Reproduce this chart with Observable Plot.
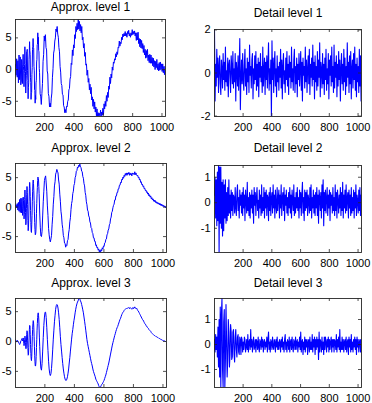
<!DOCTYPE html>
<html><head><meta charset="utf-8">
<script src="https://cdn.jsdelivr.net/npm/d3@7"></script>
<script src="https://cdn.jsdelivr.net/npm/@observablehq/plot@0.6"></script>
<style>
body{margin:0;background:#fff;}
#fig{position:relative;width:372px;height:403px;background:#fff;overflow:hidden;}
#fig svg{position:absolute;}
</style></head><body><div id="fig"></div>
<script>
// ---- data ----
const xTicks = [200, 400, 600, 800, 1000];
const xDomain = [1, 1024];
// sample positions (signal index) of the typed values
const approxGrid = [...d3.range(1, 41, 4), ...d3.range(41, 165, 2), ...d3.range(165, 1024, 4)];
const detailGrid = d3.range(1, 1024, 4);

const approx1 = [0.8,-0.9,1.7,-1.2,1.4,-2.1,2.3,-1.6,2.0,-2.4,
-1.8,1.6,1.0,0.4,-2.2,0.8,2.4,0.5,-0.1,-2.7,
-0.6,0.8,3.6,1.0,-0.3,-3.7,-1.9,-0.9,2.8,2.9,
3.2,-0.2,-1.7,-4.6,-2.8,-2.1,1.6,2.6,4.4,3.0,
2.4,-1.2,-2.0,-4.7,-3.7,-3.6,-0.8,0.3,3.2,3.6,
4.9,3.5,3.4,0.5,-0.2,-3.2,-3.3,-5.3,-4.1,-4.7,
-2.1,-1.7,1.2,1.6,3.9,4.0,5.8,4.4,5.1,3.0,
2.8,0.2,
-0.5,-3.8,-4.3,-5.5,-3.8,-2.2,1.3,2.4,5.3,4.5,
5.5,3.5,3.1,-0.2,-0.7,-3.8,-4.2,-5.9,-5.3,-5.9,
-4.5,-3.7,-1.2,0.2,2.6,3.1,4.5,5.0,6.4,6.0,
6.8,5.6,5.1,3.5,2.8,0.5,-0.4,-2.2,-2.5,-3.9,
-4.0,-5.7,-5.9,-6.8,-6.3,-6.8,-5.8,-5.9,-5.0,-4.8,
-3.2,-3.0,-1.5,-1.1,1.0,0.8,3.1,2.2,3.9,3.4,
5.5,4.9,6.8,6.0,7.3,6.3,7.9,6.4,7.6,6.1,
7.1,5.8,6.8,4.7,5.1,3.4,4.1,2.1,2.7,0.7,
0.9,-0.9,-0.1,-2.0,-1.4,-3.2,-2.3,-3.8,-2.8,-4.8,
-4.3,-5.8,-4.7,-6.2,-5.1,-6.7,-5.9,-7.3,-6.2,-7.4,
-6.8,-7.4,-6.9,-7.3,-6.4,-7.4,-6.7,-7.2,-6.1,-7.1,
-5.4,-6.2,-5.0,-5.8,-4.1,-5.0,-3.6,-4.4,-2.6,-3.1,
-1.2,-2.2,-0.7,-1.3,0.4,-0.1,1.2,1.0,1.7,1.5,
2.5,2.0,2.8,2.4,3.5,3.4,4.5,3.7,4.3,4.1,
5.1,4.7,5.6,5.2,5.7,5.3,6.0,5.3,5.7,5.1,
6.0,5.6,6.2,5.3,5.7,5.1,5.8,5.4,6.3,5.5,
6.0,5.6,6.1,5.3,5.8,4.6,5.8,4.7,5.9,4.1,
4.9,3.6,4.8,3.4,4.6,3.3,4.1,2.7,3.8,2.3,
3.2,1.8,3.0,1.9,3.2,1.4,2.3,1.1,2.4,1.0,
2.3,1.0,1.9,0.6,1.8,0.4,1.4,0.0,1.3,0.3,
1.6,0.0,0.9,-0.2,1.1,-0.1,1.2,0.0,0.9,-0.3,
0.9,-0.5,0.5,-0.8,0.5];

const approx2 = [0.2,0.4,-0.1,0.6,-0.5,0.8,-0.7,1.3,-0.9,1.5,
-1.0,0.9,1.5,-0.3,-1.4,0.1,1.7,1.1,-0.8,-2.0,
-1.3,1.3,2.9,1.6,-0.9,-3.0,-2.5,-0.2,2.1,3.5,
2.5,0.4,-2.3,-4.0,-3.4,-1.5,1.0,3.2,4.2,3.5,
1.8,-0.6,-2.6,-4.1,-4.3,-3.0,-1.4,0.9,2.6,4.1,
4.6,4.0,2.8,1.1,-0.8,-2.6,-3.8,-4.7,-4.6,-4.2,
-2.7,-1.1,0.6,2.2,3.3,4.5,5.1,4.9,4.6,3.5,
2.3,0.7,
-1.0,-3.4,-4.9,-5.0,-4.1,-1.5,0.9,2.7,4.5,5.0,
5.3,4.1,2.6,0.2,-1.4,-3.6,-4.7,-5.5,-5.9,-5.4,
-4.8,-3.0,-1.6,0.5,1.8,3.6,4.3,5.6,5.9,6.4,
6.1,5.8,4.6,3.9,2.2,1.0,-0.7,-1.5,-2.9,-3.6,
-4.8,-5.2,-6.1,-6.2,-6.8,-6.4,-6.5,-5.7,-5.5,-4.4,
-3.8,-2.5,-1.8,-0.4,0.6,1.1,2.3,2.7,3.7,4.0,
5.0,5.3,6.1,6.2,6.8,6.7,7.1,6.9,7.3,6.8,
6.7,6.1,6.0,5.2,4.9,4.0,3.6,2.5,2.0,0.9,
0.4,-0.5,-0.7,-1.5,-1.7,-2.5,-2.7,-3.5,-3.6,-4.3,
-4.5,-5.2,-5.2,-5.8,-5.8,-6.5,-6.4,-6.9,-6.8,-7.3,
-7.1,-7.6,-7.3,-7.7,-7.2,-7.4,-6.9,-7.1,-6.6,-6.7,
-6.1,-6.0,-5.5,-5.4,-4.7,-4.5,-3.9,-3.7,-3.0,-2.8,
-2.0,-1.7,-0.9,-0.7,-0.1,0.3,0.5,1.2,1.2,1.9,
1.9,2.5,2.5,3.1,3.1,3.7,3.7,4.2,4.1,4.7,
4.6,5.1,4.9,5.4,5.2,5.7,5.4,5.8,5.4,5.8,
5.6,5.9,5.4,5.8,5.5,5.7,5.3,5.8,5.6,5.7,
5.5,6.0,5.5,5.8,5.5,5.3,5.4,5.0,5.1,4.6,
4.7,4.2,4.3,3.8,3.9,3.5,3.6,3.1,3.2,2.8,
2.9,2.5,2.6,2.2,2.4,1.9,2.1,1.7,1.9,1.4,
1.6,1.2,1.4,1.0,1.2,0.9,1.1,0.7,0.9,0.6,
0.8,0.5,0.7,0.4,0.6,0.3,0.5,0.2,0.4,0.1,
0.3,0.0,0.2,-0.1,0.1];

const approx3 = [0.3,0.1,-0.1,0.2,0.1,-0.1,-0.3,-0.5,-0.3,0.1,
0.2,0.4,0.5,0.3,0.1,0.3,0.6,0.4,-0.3,-0.7,
-0.4,0.3,0.9,0.7,-0.2,-1.2,-1.2,-0.1,1.2,1.8,
1.6,0.1,-1.2,-2.3,-2.2,-1.0,0.6,2.0,2.7,2.6,
1.2,-0.5,-2.0,-2.9,-3.2,-2.5,-1.0,0.8,2.0,3.0,
3.5,3.3,2.4,0.8,-0.8,-2.3,-3.4,-4.1,-4.1,-3.6,
-2.5,-1.0,0.3,1.9,3.0,4.0,4.6,4.8,4.4,3.6,
2.1,0.6,
-0.8,-3.1,-4.5,-4.8,-3.7,-1.6,0.7,2.7,4.1,4.9,
4.9,4.0,2.3,0.3,-1.5,-3.3,-4.6,-5.4,-5.7,-5.4,
-4.5,-3.1,-1.4,0.4,1.9,3.3,4.4,5.4,6.0,6.2,
6.1,5.6,4.8,3.7,2.3,0.8,-0.5,-1.6,-2.7,-3.7,
-4.6,-5.3,-5.9,-6.3,-6.5,-6.5,-6.3,-5.9,-5.3,-4.6,
-3.6,-2.7,-1.6,-0.6,0.4,1.3,2.0,2.8,3.5,4.1,
4.8,5.4,5.9,6.3,6.6,6.8,7.1,7.2,7.1,6.8,
6.6,6.2,5.8,5.3,4.8,4.1,3.4,2.7,1.9,1.1,
0.3,-0.3,-0.8,-1.3,-1.8,-2.3,-2.8,-3.3,-3.7,-4.1,
-4.6,-5.0,-5.3,-5.6,-5.9,-6.3,-6.5,-6.7,-6.9,-7.1,
-7.4,-7.6,-7.7,-7.6,-7.4,-7.2,-7.1,-6.9,-6.7,-6.5,
-6.2,-5.9,-5.6,-5.2,-4.8,-4.4,-4.0,-3.6,-3.1,-2.6,
-2.1,-1.6,-1.1,-0.6,-0.2,0.2,0.6,1.0,1.3,1.7,
2.0,2.3,2.5,2.8,3.1,3.4,3.7,3.9,4.2,4.5,
4.7,4.9,5.0,5.2,5.3,5.4,5.5,5.6,5.5,5.6,
5.7,5.6,5.5,5.7,5.6,5.5,5.4,5.6,5.7,5.5,
5.6,5.8,5.6,5.5,5.6,5.4,5.2,5.1,4.9,4.7,
4.5,4.3,4.1,3.9,3.7,3.6,3.4,3.2,3.0,2.9,
2.7,2.6,2.4,2.3,2.2,2.0,1.9,1.8,1.7,1.5,
1.4,1.3,1.2,1.1,1.0,1.0,0.9,0.8,0.8,0.7,
0.7,0.6,0.5,0.5,0.4,0.4,0.3,0.3,0.2,0.2,
0.1,0.1,0.1,0.0,0.0];

const detail1 = [2.0,-1.3,0.4,-0.6,1.1,-0.2,0.7,-0.9,0.3,0.8,-0.5,-1.0,0.6,0.2,-0.7,0.9,
-0.3,0.5,-0.8,1.2,-0.4,0.1,-0.6,0.7,-1.1,0.4,0.6,-0.2,-0.9,0.8,0.3,-0.5,
1.0,-0.7,0.2,-0.4,0.9,-1.3,0.5,0.1,-0.6,0.8,-0.8,0.3,1.6,-1.7,-0.2,0.6,
-0.5,0.9,-0.3,-0.8,0.4,1.1,-0.6,0.2,-1.0,0.7,-0.4,0.5,-0.9,1.3,-0.1,0.3,
-0.7,0.6,0.9,-1.2,0.2,-0.5,0.8,-0.3,1.0,-0.8,0.4,-0.6,0.7,-1.1,0.5,-0.2,
0.9,-0.4,0.3,-0.9,1.2,-0.6,0.1,0.7,-1.0,0.5,-0.3,0.8,-0.7,0.4,1.4,-0.8,
0.2,-0.5,0.6,-2.0,1.5,-0.3,0.7,-0.9,0.4,1.0,-0.6,0.2,-1.1,0.8,-0.4,0.3,
-0.8,0.5,-0.2,1.1,-0.7,0.6,-1.2,0.3,0.9,-0.5,0.1,-0.9,0.7,-0.3,1.0,-0.6,
0.4,-1.0,0.8,-0.2,0.5,-0.7,1.2,-0.4,0.2,-0.8,0.6,1.1,-0.9,0.3,-0.5,0.7,
-1.1,0.4,-0.3,0.9,-0.6,0.2,1.0,-0.8,0.5,-1.3,0.7,-0.1,0.3,-0.7,1.2,-0.4,
0.6,-0.9,0.2,0.8,-0.5,1.1,-1.0,0.4,-0.2,0.7,-0.6,1.3,-0.3,0.5,-1.2,0.8,
-0.4,0.3,-0.8,1.0,-0.6,0.6,-0.2,1.4,-1.1,0.5,0.2,-0.7,0.9,-0.5,0.4,-1.0,
0.7,-0.3,1.1,-0.8,0.2,-0.5,0.9,-1.2,0.6,-0.1,0.8,-0.6,1.2,-0.4,0.3,-0.9,
1.3,-0.7,0.5,-0.2,0.8,-1.1,0.4,-0.6,1.0,-0.3,0.6,-1.3,0.2,0.9,-0.5,0.4,
-0.8,1.1,-0.4,0.7,-1.0,0.3,-0.6,1.4,-0.2,0.5,-0.9,0.8,-0.5,1.0,-1.2,0.2,
0.6,-0.7,0.9,-0.3,1.2,-0.8,0.4,-1.1,0.7,-0.4,0.3,-0.9,1.1,-0.6,0.8,-1.3];

const detail2 = [0.3,1.0,-0.6,0.9,-0.9,1.2,-0.7,1.46,-1.95,1.4,-0.8,1.4,-1.0,0.8,-1.3,0.9,
-1.1,0.7,-0.6,0.9,-0.8,0.4,-0.7,0.6,-0.5,0.9,-0.4,0.3,-0.6,0.5,-0.3,0.4,
-0.5,0.3,0.2,-0.4,0.6,-0.2,-0.5,0.4,0.7,-0.3,0.2,-0.6,0.5,-0.1,0.3,-0.4,
0.4,-0.5,0.6,-0.2,0.3,-0.7,0.5,0.1,-0.4,0.8,-0.3,0.2,-0.5,0.4,-0.6,0.3,
-0.2,0.5,-0.4,0.3,-0.8,0.6,-0.1,0.4,-0.5,0.2,0.6,-0.3,0.1,-0.6,0.5,-0.2,
0.3,-0.5,0.7,-0.4,0.2,-0.3,0.6,-0.6,0.4,-0.2,0.5,-0.5,0.3,0.2,-0.7,0.4,
-0.3,0.6,-0.5,0.2,0.4,-0.4,0.7,-0.2,0.3,-0.6,0.5,-0.1,-0.4,0.6,-0.3,0.2,
0.5,-0.6,0.3,-0.2,0.7,-0.5,0.2,0.4,-0.3,0.6,-0.7,0.3,-0.1,0.5,-0.4,0.2,
-0.5,0.4,-0.2,0.6,-0.4,0.3,-0.6,0.5,0.1,-0.3,0.7,-0.5,0.2,-0.4,0.4,-0.2,
0.6,-0.3,0.2,-0.6,0.5,-0.2,0.4,-0.5,0.3,0.8,-0.4,0.2,-0.7,0.5,-0.3,0.4,
-0.2,0.5,-0.5,0.3,0.1,-0.4,0.6,-0.3,0.7,-0.6,0.2,-0.2,0.5,-0.4,0.3,-0.5,
0.4,-0.2,0.6,-0.5,0.3,-0.8,0.5,0.2,-0.3,0.4,-0.6,0.7,-0.2,0.9,-0.9,0.4,
-0.3,0.5,-0.4,0.2,0.6,-0.5,0.3,-0.2,0.5,-0.7,0.4,-0.1,0.3,-0.4,0.6,-0.3,
0.2,-0.5,0.7,-0.3,0.4,-0.6,0.5,0.1,-0.4,0.3,-0.2,0.6,-0.5,0.4,-0.3,0.8,
-0.6,0.3,-0.2,0.5,-0.4,0.7,-0.3,0.2,0.4,-0.6,0.5,-0.2,0.3,-0.5,0.6,-0.4,
0.2,-0.3,0.5,-0.6,0.4,-0.2,0.7,-0.5,0.3,0.1,-0.4,0.5,-0.3,0.6,-0.5,0.3];

const detail3 = [0.2,-0.3,0.4,-0.2,0.3,-0.5,0.7,-0.9,1.0,-1.3,1.5,-1.72,1.2,1.84,-1.0,-1.7,
0.9,1.4,-1.7,-0.6,1.6,0.2,-1.3,-0.6,1.0,0.5,-0.9,-0.4,0.8,0.5,-0.6,-0.5,
0.5,0.6,-0.4,-0.7,0.3,0.6,-0.2,-0.5,0.3,0.4,-0.3,-0.4,0.3,0.2,-0.4,0.3,
0.2,-0.3,0.1,-0.2,0.3,0.2,-0.3,-0.1,0.2,-0.2,0.4,-0.3,0.1,0.2,-0.2,0.6,
-0.1,0.2,-0.3,0.1,0.3,-0.2,-0.1,0.2,-0.3,0.2,0.1,-0.2,0.3,-0.1,-0.3,0.2,
0.1,-0.2,0.3,-0.1,0.2,-0.3,0.1,0.2,-0.2,0.1,-0.1,0.3,-0.3,0.2,0.5,-0.2,
0.1,-0.3,0.2,0.1,-0.2,0.3,-0.1,-0.2,0.2,0.1,-0.3,0.2,-0.1,0.3,-0.2,0.1,
-0.2,0.2,0.1,-0.3,0.2,-0.1,0.3,-0.2,0.1,-0.3,0.2,0.4,-0.2,0.1,-0.3,0.2,
0.1,-0.2,0.3,-0.3,0.1,0.2,-0.2,0.3,-0.1,-0.3,0.2,0.1,-0.2,0.3,-0.2,0.1,
0.2,-0.3,0.1,-0.1,0.3,-0.2,0.5,-0.3,0.1,0.2,-0.4,0.1,-0.2,0.3,-0.3,0.2,
-0.1,0.2,-0.4,0.1,0.2,-0.3,0.3,-0.2,0.1,-0.2,0.4,-0.3,0.2,-0.1,0.3,-0.4,
0.2,-0.2,0.3,-0.1,0.2,-0.6,0.5,-0.3,0.2,0.1,-0.3,0.3,-0.2,0.1,-0.4,0.3,
-0.2,0.3,0.1,-0.3,0.2,-0.1,0.3,-0.3,0.2,-0.2,0.1,0.3,-0.3,0.2,-0.1,0.2,
-0.3,0.2,0.1,-0.2,0.4,-0.3,0.2,-0.1,0.3,-0.2,0.6,-0.3,0.1,-0.2,0.3,-0.2,
0.2,-0.3,0.1,0.2,-0.2,0.3,-0.3,0.1,0.2,-0.4,0.3,-0.1,0.2,-0.3,0.4,-0.2,
0.1,-0.3,0.2,-0.1,0.3,-0.2,0.2,-0.4,0.3,-0.1,0.2,-0.3,0.1,0.2,-0.3,0.2];

const titles = ["Approx. level 1","Detail level 1","Approx. level 2","Detail level 2","Approx. level 3","Detail level 3"];
const yDomains = [[-7.4,7.9],[-2.02,2.02],[-7.7,7.4],[-1.95,1.46],[-7.7,7.2],[-1.72,1.84]];
const yTickSets = [[-5,0,5],[-2,0,2],[-5,0,5],[-1,0,1],[-5,0,5],[-1,0,1]];
const seriesList = [approx1, detail1, approx2, detail2, approx3, detail3];
const gridList = [approxGrid, detailGrid, approxGrid, detailGrid, approxGrid, detailGrid];

// ---- layout (page pixels) ----
const layout = [
  {sx:0,   sy:0,   w:186, h:135, l:15,  r:165, t:19,  b:116, gap:12, sw:1.0},
  {sx:186, sy:0,   w:186, h:135, l:214, r:361, t:29,  b:116, gap:16, sw:1.1},
  {sx:0,   sy:135, w:186, h:135, l:15,  r:166, t:163, b:252, gap:15, sw:1.0},
  {sx:186, sy:135, w:186, h:135, l:214, r:361, t:165, b:252, gap:17, sw:1.1},
  {sx:0,   sy:270, w:186, h:133, l:15,  r:166, t:298, b:387, gap:15, sw:1.0},
  {sx:186, sy:270, w:186, h:133, l:214, r:361, t:298, b:387, gap:15, sw:1.1}
];

const fig = document.getElementById("fig");
const FONT = "'Liberation Sans', Arial, Helvetica, sans-serif";
const frameColor = "#262626";

layout.forEach((L, k) => {
  const data = seriesList[k].map((v, i) => ({x: gridList[k][i], y: v}));
  const innerW = L.r - L.l, innerH = L.b - L.t;
  const tick = 3;
  const svg = Plot.plot({
    width: L.w, height: L.h,
    marginLeft: L.l - L.sx, marginRight: L.sx + L.w - L.r,
    marginTop: L.t - L.sy, marginBottom: L.sy + L.h - L.b,
    x: {domain: xDomain},
    y: {domain: yDomains[k]},
    style: {fontFamily: FONT, fontSize: "11px", background: "transparent", overflow: "visible", color: "#000"},
    marks: [
      Plot.line(data, {x: "x", y: "y", stroke: "#0000ff", strokeWidth: L.sw, clip: true}),
      Plot.ruleX(xTicks, {insetTop: innerH - tick, stroke: frameColor, strokeWidth: 0.8}),
      Plot.ruleX(xTicks, {insetBottom: innerH - tick, stroke: frameColor, strokeWidth: 0.8}),
      Plot.ruleY(yTickSets[k], {insetRight: innerW - tick, stroke: frameColor, strokeWidth: 0.8}),
      Plot.ruleY(yTickSets[k], {insetLeft: innerW - tick, stroke: frameColor, strokeWidth: 0.8}),
      Plot.frame({stroke: frameColor, strokeWidth: 0.9}),
      Plot.axisX(xTicks, {tickSize: 0, tickPadding: 7, label: null, tickFormat: d => String(d), fontSize: 11}),
      Plot.axisY(yTickSets[k], {tickSize: 0, tickPadding: 4, label: null, tickFormat: d => String(d), fontSize: 11}),
      Plot.text([titles[k]], {text: d => d, frameAnchor: "top", dy: -L.gap, lineAnchor: "middle", fontSize: 12, fill: "#000"})
    ]
  });
  svg.style.left = L.sx + "px";
  svg.style.top = L.sy + "px";
  fig.appendChild(svg);
});
</script>
</body></html>
